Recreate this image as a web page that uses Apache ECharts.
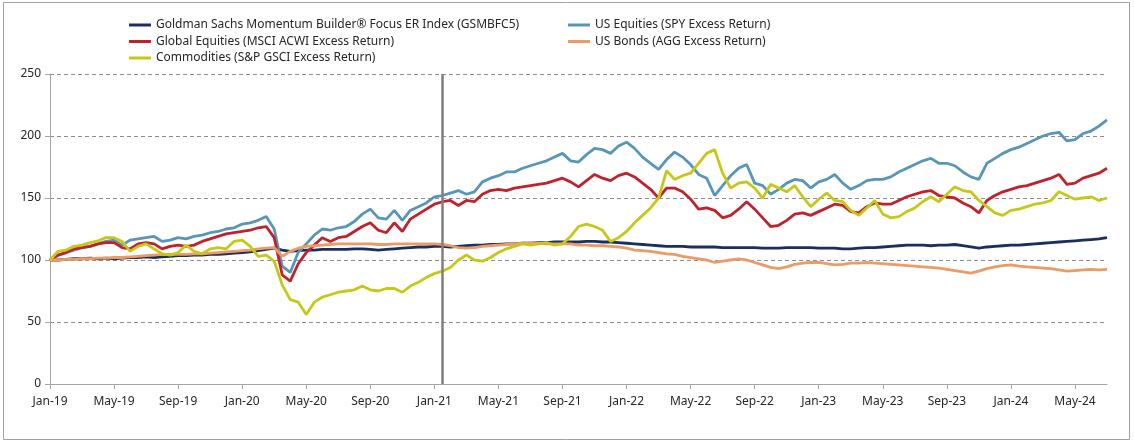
<!DOCTYPE html>
<html>
<head>
<meta charset="utf-8">
<script src="https://cdn.jsdelivr.net/npm/echarts@6/dist/echarts.min.js"></script>
<style>
html,body{margin:0;padding:0;background:#fff;}
#chart{width:1134px;height:441px;}
</style>
</head>
<body>
<div id="chart"></div>
<script>
// Semi-monthly observation dates from Jan-2019 to Jul-2024
const MONTHS = ['Jan','Feb','Mar','Apr','May','Jun','Jul','Aug','Sep','Oct','Nov','Dec'];
const categories = [];
for (let y = 2019; y <= 2024; y++) {
  for (let mo = 0; mo < 12; mo++) {
    for (const d of ['01','16']) {
      if (categories.length < 133) categories.push(y + '-' + String(mo + 1).padStart(2, '0') + '-' + d);
    }
  }
}
const yTicks = [0, 50, 100, 150, 200, 250];
const markerDate = '2021-01-16';

const seriesNames = [
  'Goldman Sachs Momentum Builder\u00AE Focus ER Index (GSMBFC5)',
  'US Equities (SPY Excess Return)',
  'Global Equities (MSCI ACWI Excess Return)',
  'US Bonds (AGG Excess Return)',
  'Commodities (S&P GSCI Excess Return)'
];

const gsmbfc5 = [
  100, 100, 100.5, 101, 101, 101.5, 101, 101.5,
  101, 101.5, 102, 102, 102.5, 102, 102.5, 103,
  103.5, 103.5, 104, 104, 104.5, 104.5, 105, 105.5,
  106, 106.5, 107.5, 108.5, 109.5, 108, 107, 107.5,
  108, 108, 108.5, 108.5, 108.5, 108.5, 109, 109,
  108.5, 108, 108.5, 109, 109.5, 110, 110.5, 110.5,
  111, 111, 110.5, 111, 111.5, 112, 112, 112.5,
  112.5, 113, 113, 113.5, 113.5, 114, 114, 114.5,
  114.5, 114.5, 114.5, 115, 115, 114.5, 114.5, 114,
  113.5, 113, 112.5, 112, 111.5, 111, 111, 111,
  110.5, 110.5, 110.5, 110.5, 110, 110, 110, 110,
  110, 109.5, 109.5, 109.5, 110, 110, 110, 110,
  109.5, 109.5, 109.5, 109, 109, 109.5, 110, 110,
  110.5, 111, 111.5, 112, 112, 112, 111.5, 112,
  112, 112.5, 111.5, 110.5, 109.5, 110.5, 111, 111.5,
  112, 112, 112.5, 113, 113.5, 114, 114.5, 115,
  115.5, 116, 116.5, 117, 118
];

const spy = [
  100, 104, 106, 108, 110, 111, 113, 115,
  116, 112, 116, 117, 118, 119, 115, 116,
  118, 117, 119, 120, 122, 123, 125, 126,
  129, 130, 132, 135, 125, 95, 90, 106,
  113, 120, 125, 124, 126, 127, 131, 137,
  141, 134, 133, 140, 132, 140, 143, 146,
  151, 152, 154, 156, 153, 155, 163, 166,
  168, 171, 171, 174, 176, 178, 180, 183,
  186, 180, 179, 185, 190, 189, 186, 192,
  195, 190, 183, 178, 173, 181, 187, 183,
  177, 169, 166, 152, 160, 168, 174, 177,
  162, 160, 153, 157, 162, 165, 164, 158,
  163, 165, 169, 162, 157, 160, 164, 165,
  165, 167, 171, 174, 177, 180, 182, 178,
  178, 176, 171, 167, 165, 178, 182, 186,
  189, 191, 194, 197, 200, 202, 203, 196,
  197, 202, 204, 208, 213
];

const acwi = [
  100, 104, 106, 109, 110, 111, 113, 114,
  114, 110, 109, 113, 114, 113, 109, 111,
  112, 111, 112, 115, 117, 119, 121, 122,
  123, 124, 126, 127, 118, 88, 83, 97,
  106, 112, 118, 115, 118, 119, 123, 127,
  130, 124, 122, 130, 123, 133, 137, 141,
  145, 147, 148, 144, 148, 147, 153, 156,
  157, 156, 158, 159, 160, 161, 162, 164,
  166, 163, 159, 164, 169, 166, 164, 168,
  170, 167, 162, 157, 150, 158, 158, 155,
  149, 141, 142, 140, 134, 136, 141, 147,
  141, 134, 127, 128, 132, 137, 138, 136,
  139, 142, 145, 144, 139, 138, 143, 146,
  145, 145, 148, 151, 153, 155, 156, 152,
  151, 150, 146, 143, 138, 148, 152, 155,
  157, 159, 160, 162, 164, 166, 169, 161,
  162, 166, 168, 170, 174
];

const agg = [
  100, 100, 100.5, 100.5, 101, 101, 101.5, 101.5,
  102, 102, 102.5, 103, 103.5, 104, 104.5, 104.5,
  104.5, 104.5, 105, 105, 105.5, 106, 106.5, 107,
  107.5, 108, 109, 109.5, 110, 103, 107, 109.5,
  111, 111.5, 112, 112.5, 113, 113, 113, 113,
  113, 112.5, 112.5, 113, 113, 113, 113, 113,
  113, 112.5, 111.5, 110, 109.5, 110, 111, 111.5,
  112, 112.5, 113, 113.5, 113.5, 113.5, 113, 113,
  113, 113, 112, 112, 111.5, 111.5, 111, 110.5,
  109.5, 108, 107.5, 107, 106, 105, 104.5, 103,
  102, 101, 100, 98, 99, 100, 101, 100,
  98, 96, 94, 93, 94.5, 96.5, 97.5, 98,
  98, 97, 96, 96.5, 97.5, 97.5, 98, 97.5,
  97, 96.5, 96, 95.5, 95, 94.5, 94, 93.5,
  92.5, 91.5, 90.5, 89.5, 91, 93, 94.5, 95.5,
  96, 95, 94.5, 94, 93.5, 93, 92, 91,
  91.5, 92, 92.5, 92, 92.5
];

const gsci = [
  100, 107, 108, 111, 112, 114, 115.5, 118,
  118, 115, 107, 111, 113, 109, 105, 104,
  106, 112, 107, 105, 109, 110, 109, 115,
  116, 111, 103, 104, 99, 80, 68, 66,
  56, 66, 70, 72, 74, 75, 76, 79,
  76, 75, 77, 77, 74, 79, 82, 86,
  89, 91, 94, 100, 104, 100, 99, 102,
  106, 109, 111, 113, 112, 113, 114, 112,
  113, 119, 127, 129, 127, 124, 115, 118,
  123, 130, 136, 142, 150, 172, 165, 168,
  170, 178, 186, 189, 170, 158, 162, 163,
  158, 150, 161, 158, 155, 160, 151, 143,
  149, 154, 148, 147, 140, 136, 142, 148,
  137, 134, 135, 139, 142, 147, 151, 147,
  153, 159, 156, 155, 148, 143, 138, 136,
  140, 141, 143, 145, 146, 148, 155, 152,
  149, 150, 151, 148, 150
];

const seriesData = [gsmbfc5, spy, acwi, agg, gsci];
const colors = ['#1B2F5E', '#5796B6', '#C0212B', '#EC9A66', '#C6C817'];

const chart = echarts.init(document.getElementById('chart'), null, {renderer: 'canvas'});

const legendText = {color: '#262626', fontSize: 12, fontFamily: 'Noto Sans', lineHeight: 14};

const series = seriesData.map((d, i) => ({
  name: seriesNames[i],
  type: 'line',
  data: d,
  symbol: 'none',
  showSymbol: false,
  lineStyle: {color: colors[i], width: 2.8},
  itemStyle: {color: colors[i]},
  z: 2 + i
}));
series[4].markLine = {
  silent: true,
  symbol: 'none',
  label: {show: false},
  lineStyle: {color: '#7F7F7F', width: 2.5, type: 'solid'},
  data: [{xAxis: markerDate}],
  z: 20
};

const option = {
  animation: false,
  backgroundColor: '#ffffff',
  grid: {left: 50, right: 27, top: 74, bottom: 57, containLabel: false},
  legend: [
    {
      data: [seriesNames[0], seriesNames[2], seriesNames[4]],
      orient: 'vertical', left: 124, top: 13,
      itemWidth: 22, itemHeight: 3, itemGap: 2.5,
      icon: 'rect', textStyle: legendText, selectedMode: false
    },
    {
      data: [seriesNames[1], seriesNames[3]],
      orient: 'vertical', left: 563, top: 13,
      itemWidth: 22, itemHeight: 3, itemGap: 2.5,
      icon: 'rect', textStyle: legendText, selectedMode: false
    }
  ],
  xAxis: {
    type: 'category',
    data: categories,
    boundaryGap: false,
    axisLine: {show: true, lineStyle: {color: '#A6A6A6', width: 1}},
    axisTick: {show: true, length: 5, lineStyle: {color: '#A6A6A6'}, interval: (idx) => idx % 8 === 0},
    axisLabel: {
      interval: (idx) => idx % 8 === 0,
      margin: 12,
      color: '#262626', fontSize: 12, fontFamily: 'Noto Sans',
      formatter: (v) => {
        const p = v.split('-');
        return MONTHS[parseInt(p[1], 10) - 1] + '-' + p[0].slice(2);
      }
    },
    splitLine: {show: false}
  },
  yAxis: {
    type: 'value',
    min: yTicks[0], max: yTicks[yTicks.length - 1], interval: 50,
    axisLine: {show: true, lineStyle: {color: '#A6A6A6', width: 1}},
    axisTick: {show: true, length: 5, lineStyle: {color: '#A6A6A6'}},
    axisLabel: {margin: 9, color: '#262626', fontSize: 12, fontFamily: 'Noto Sans'},
    splitLine: {show: true, lineStyle: {color: '#8C8C8C', width: 1, type: [4, 3]}}
  },
  graphic: [{
    type: 'rect',
    shape: {x: 3.5, y: 2.5, width: 1126, height: 437},
    style: {fill: 'none', stroke: '#A0A0A0', lineWidth: 1},
    silent: true, z: -1
  }],
  series: series
};
chart.setOption(option);
</script>
</body>
</html>
